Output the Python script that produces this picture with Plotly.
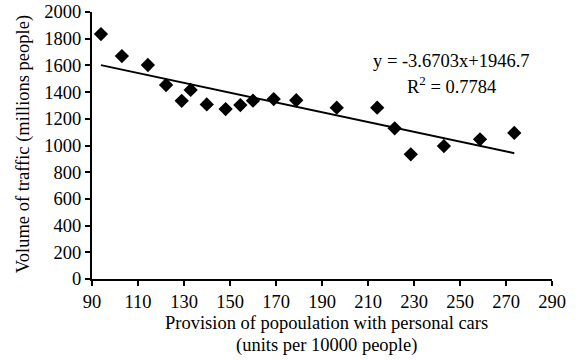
import plotly.graph_objects as go

# Provision of population with personal cars (units per 10000 people)
cars = [93.9, 103.0, 114.3, 122.2, 129.0, 132.9, 139.9, 148.1, 154.5, 160.0,
        169.0, 178.8, 196.4, 214.0, 221.6, 228.6, 243.0, 258.7, 273.6]
# Volume of traffic (millions people)
traffic = [1835, 1670, 1603, 1453, 1335, 1416, 1308, 1273, 1303, 1336,
           1348, 1339, 1283, 1283, 1129, 934, 996, 1046, 1094]

# Linear trend coefficients
slope = -3.6703
intercept = 1946.7
r_squared = 0.7784

x_ticks = list(range(90, 291, 20))
y_ticks = list(range(0, 2001, 200))

x_title_lines = ["Provision of popoulation with personal cars",
                 "(units per 10000 people)"]
y_title = "Volume of traffic (millions people)"

font_family = "Liberation Serif, Times New Roman, serif"
text_font = dict(family=font_family, size=18.5, color="black")

trend_x = [min(cars), max(cars)]
trend_y = [slope * v + intercept for v in trend_x]

fig = go.Figure()
fig.add_trace(go.Scatter(
    x=trend_x, y=trend_y, mode="lines",
    line=dict(color="black", width=2), showlegend=False, hoverinfo="skip",
))
fig.add_trace(go.Scatter(
    x=cars, y=traffic, mode="markers",
    marker=dict(symbol="diamond", size=11, color="black"),
    showlegend=False,
))

# Trend equation and coefficient of determination
fig.add_annotation(
    x=246.5, y=1630, xref="x", yref="y",
    text=f"y = {slope}x+{intercept}",
    showarrow=False, font=text_font,
)
fig.add_annotation(
    x=246.5, y=1450, xref="x", yref="y",
    text=f"R<sup>2</sup> = {r_squared}",
    showarrow=False, font=text_font,
)

# Axis titles
for i, line in enumerate(x_title_lines):
    fig.add_annotation(
        x=0.509, y=0, xref="paper", yref="paper",
        yshift=-44 - 22 * i, yanchor="middle",
        text=line, showarrow=False, font=text_font,
    )
fig.add_annotation(
    x=-0.15, y=0.505, xref="paper", yref="paper",
    xanchor="center", yanchor="middle",
    text=y_title, textangle=-90, showarrow=False, font=text_font,
)

axis_common = dict(
    showgrid=False, zeroline=False, showline=True,
    linecolor="black", linewidth=2,
    ticks="outside", ticklen=5, tickwidth=2, tickcolor="black",
    tickfont=text_font, automargin=False,
)

fig.update_layout(
    width=577, height=360,
    margin=dict(l=92, r=25, t=12, b=81),
    plot_bgcolor="white", paper_bgcolor="white",
    xaxis=dict(range=[90, 290], tickvals=x_ticks, **axis_common),
    yaxis=dict(range=[0, 2000], tickvals=y_ticks, **axis_common),
)

fig.write_html("out.html")
